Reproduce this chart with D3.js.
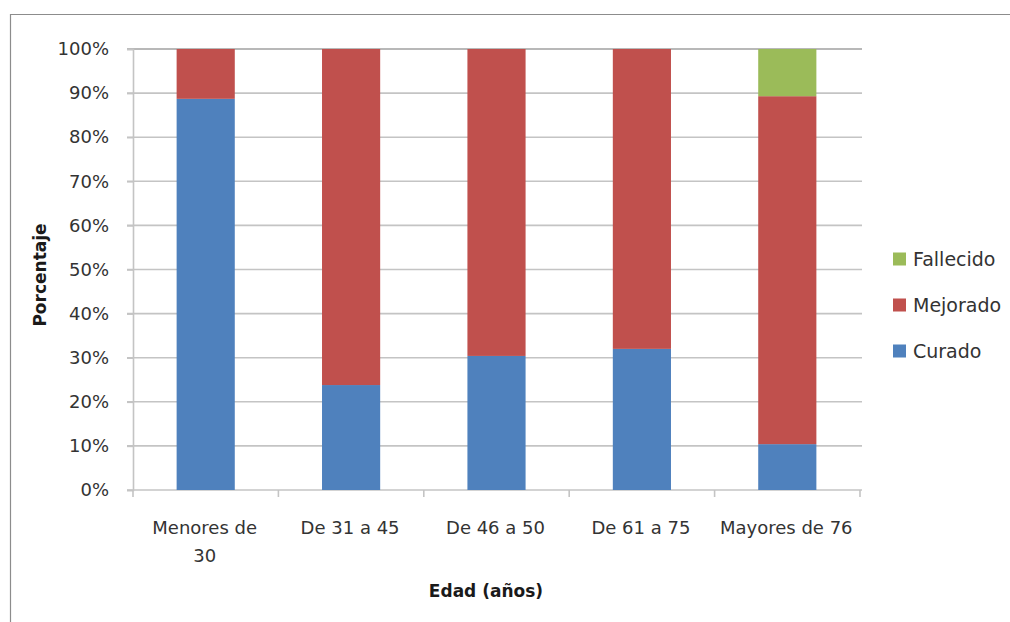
<!DOCTYPE html>
<html>
<head>
<meta charset="utf-8">
<script src="https://cdn.jsdelivr.net/npm/d3@7"></script>
<style>
html,body{margin:0;padding:0;background:#fff;}
svg{display:block;}
</style>
</head>
<body>
<svg id="chart" width="1010" height="622"></svg>
<script>
const categories = ["Menores de 30", "De 31 a 45", "De 46 a 50", "De 61 a 75", "Mayores de 76"];
const categoryLines = [["Menores de", "30"], ["De 31 a 45"], ["De 46 a 50"], ["De 61 a 75"], ["Mayores de 76"]];
const seriesNames = ["Curado", "Mejorado", "Fallecido"];
const curado = [88.7, 23.8, 30.4, 32.0, 10.4];
const mejorado = [11.3, 76.2, 69.6, 68.0, 78.9];
const fallecido = [0, 0, 0, 0, 10.7];
const yTicks = [0, 10, 20, 30, 40, 50, 60, 70, 80, 90, 100];
const colors = ["#4F81BD", "#C0504D", "#9BBB59"];

(function () {
const svg = d3.select("#chart");
const font = "'DejaVu Sans', sans-serif";

// chart border
svg.append("path").attr("d", "M10.5,622 L10.5,14.5 L1010,14.5")
  .attr("fill", "none").attr("stroke", "#8c8c8c").attr("stroke-width", 1.2);

const pL = 133, pR = 860, pT = 49, pB = 490;
const x = d3.scaleBand().domain(categories).range([pL, pR]).padding(0);
const y = d3.scaleLinear().domain([0, 100]).range([pB, pT]);

// gridlines
svg.append("g").selectAll("line").data(yTicks.filter(d => d > 0)).join("line")
  .attr("x1", pL - 6).attr("x2", pR + 2)
  .attr("y1", d => y(d)).attr("y2", d => y(d))
  .attr("stroke", d => d === 100 ? "#b8b8b8" : "#c4c4c4").attr("stroke-width", d => d === 100 ? 2.2 : 1.6);

// y axis
const yAxis = d3.axisLeft(y).tickValues(yTicks).tickFormat(d => d + "%").tickSize(6).tickPadding(18);
const gy = svg.append("g").attr("transform", `translate(${pL},0)`).call(yAxis);
gy.select(".domain").attr("stroke", "#c4c4c4").attr("stroke-width", 1.6);
gy.selectAll(".tick line").attr("stroke", "#c4c4c4").attr("stroke-width", 1.6);
gy.selectAll(".tick text").attr("font-family", font).attr("font-size", 18).attr("fill", "#333");

// x axis baseline + boundary ticks
svg.append("line").attr("x1", pL - 6).attr("x2", pR + 2).attr("y1", pB).attr("y2", pB)
  .attr("stroke", "#c4c4c4").attr("stroke-width", 1.6);
const bounds = categories.map(c => x(c)).concat([pR]);
svg.append("g").selectAll("line").data(bounds).join("line")
  .attr("x1", d => d).attr("x2", d => d).attr("y1", pB).attr("y2", pB + 7)
  .attr("stroke", "#c4c4c4").attr("stroke-width", 1.6);

// x labels
const xl = svg.append("g").selectAll("text").data(categories).join("text")
  .attr("x", d => x(d) + x.bandwidth() / 2 - 1)
  .attr("y", 534)
  .attr("text-anchor", "middle")
  .attr("font-family", font).attr("font-size", 18).attr("fill", "#333");
xl.each(function(d, i) {
  const t = d3.select(this);
  categoryLines[i].forEach((ln, j) => {
    t.append("tspan").attr("x", x(d) + x.bandwidth() / 2 - 1).attr("dy", j === 0 ? 0 : 28).text(ln);
  });
});

// stacked bars
const rows = categories.map((c, i) => ({cat: c, Curado: curado[i], Mejorado: mejorado[i], Fallecido: fallecido[i]}));
const stack = d3.stack().keys(seriesNames)(rows);
const barW = x.bandwidth() * 0.4;
svg.append("g").selectAll("g").data(stack).join("g")
  .attr("fill", (d, i) => colors[i])
  .selectAll("rect").data(d => d).join("rect")
  .attr("x", d => x(d.data.cat) + (x.bandwidth() - barW) / 2)
  .attr("width", barW)
  .attr("y", d => y(d[1]))
  .attr("height", d => Math.max(0, y(d[0]) - y(d[1])));

// axis titles
svg.append("text").attr("transform", "translate(46,275) rotate(-90)")
  .attr("text-anchor", "middle").attr("font-family", font).attr("font-weight", "bold")
  .attr("font-size", 17).attr("fill", "#1a1a1a").text("Porcentaje");
svg.append("text").attr("x", 486).attr("y", 597)
  .attr("text-anchor", "middle").attr("font-family", font).attr("font-weight", "bold")
  .attr("font-size", 17).attr("fill", "#1a1a1a").text("Edad (años)");

// legend
const legendOrder = [2, 1, 0];
const lg = svg.append("g").selectAll("g").data(legendOrder).join("g")
  .attr("transform", (d, i) => `translate(893,${259 + i * 46})`);
lg.append("rect").attr("x", 0).attr("y", -6.5).attr("width", 13).attr("height", 13)
  .attr("fill", d => colors[d]);
lg.append("text").attr("x", 20).attr("y", 7).attr("font-family", font).attr("font-size", 19)
  .attr("fill", "#333").text(d => seriesNames[d]);
})();
</script>
</body>
</html>
